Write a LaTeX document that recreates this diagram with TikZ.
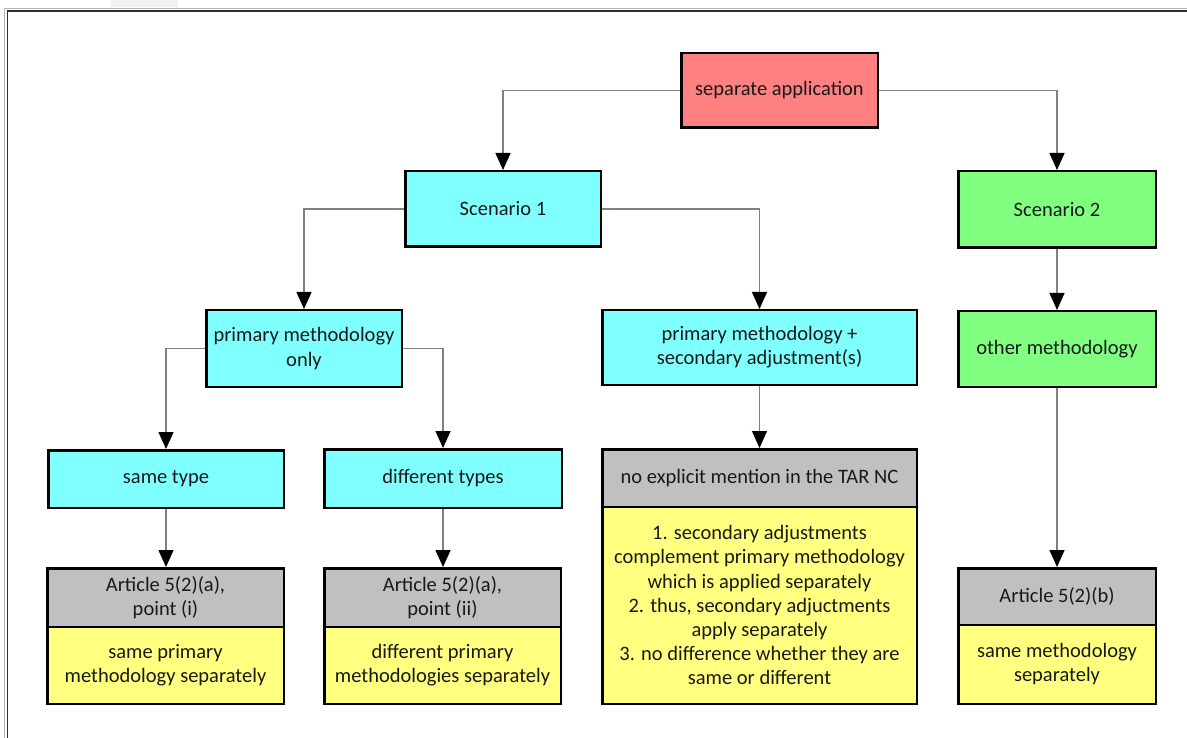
\documentclass[tikz,border=0pt]{standalone}
\usepackage{fontspec}
\setmainfont{Carlito}
\usetikzlibrary{arrows.meta}

\definecolor{boxred}{HTML}{FF8080}
\definecolor{boxcyan}{HTML}{80FFFF}
\definecolor{boxgreen}{HTML}{80FF80}
\definecolor{boxgray}{HTML}{C0C0C0}
\definecolor{boxyellow}{HTML}{FFFF80}
\definecolor{linegray}{HTML}{808080}
\definecolor{framegray}{HTML}{B4B4B4}
\definecolor{framedark}{HTML}{303030}
\definecolor{tabgray}{HTML}{F0F0F0}

\tikzset{
  box/.style={draw=black, line width=2.5pt, inner sep=0pt, align=center,
    font=\fontsize{20.5}{24.2}\selectfont, text=black!90},
  conn/.style={draw=linegray, line width=1.3pt,
    -{Triangle[length=17pt,width=15pt,fill=black,color=black]}},
  wh/.style 2 args={minimum width=#1pt-2.5pt, minimum height=#2pt-2.5pt}
}

\begin{document}
\begin{tikzpicture}[x=1pt,y=-1pt]
  \useasboundingbox (0,0) rectangle (1187,738);
  % window frame
  \fill[tabgray] (111,0) rectangle (178,7);
  \draw[framegray, line width=1pt] (1187,8.5) -- (4.5,8.5) -- (4.5,738);
  \draw[framedark, line width=1.3pt] (1187,11) -- (7.5,11) -- (7.5,738);

  % top level
  \node[box, fill=boxred, wh={199}{77}] (sep) at (779.5,90.5) {separate application};

  % second level
  \node[box, fill=boxcyan, wh={198}{78}] (s1) at (503,209) {Scenario 1};
  \node[box, fill=boxgreen, wh={200}{79}] (s2) at (1057,209.5) {Scenario 2};

  % third level
  \node[box, fill=boxcyan, wh={198}{79}] (pmo) at (304,348.5) {primary methodology\\only};
  \node[box, fill=boxcyan, wh={317}{77}] (pms) at (759.5,347.5) {primary methodology +\\secondary adjustment(s)};
  \node[box, fill=boxgreen, wh={200}{78}] (oth) at (1057,349) {other methodology};

  % fourth level
  \node[box, fill=boxcyan, wh={238}{60}] (st) at (166,479) {same type};
  \node[box, fill=boxcyan, wh={240}{61}] (dt) at (443,478.5) {different types};
  \node[box, fill=boxgray, wh={317}{60}] (nemh) at (759.5,478) {no explicit mention in the TAR NC};
  \node[box, fill=boxyellow, wh={317}{199.5}] (nemb) at (759.5,605.25)
    {1. secondary adjustments\\complement primary methodology\\which is applied separately\\2. thus, secondary adjuctments\\apply separately\\3. no difference whether they are\\same or different};

  % legal basis boxes (heading over body, sharing one border line)
  \node[box, fill=boxgray, wh={239}{61}] (a1h) at (165.5,597.5) {Article 5(2)(a),\\point (i)};
  \node[box, fill=boxyellow, wh={239}{79.5}] (a1b) at (165.5,665.25) {same primary\\methodology separately};
  \node[box, fill=boxgray, wh={239}{61}] (a2h) at (442.5,597.5) {Article 5(2)(a),\\point (ii)};
  \node[box, fill=boxyellow, wh={239}{79.5}] (a2b) at (442.5,665.25) {different primary\\methodologies separately};
  \node[box, fill=boxgray, wh={200}{59}] (bh) at (1057,596.5) {Article 5(2)(b)};
  \node[box, fill=boxyellow, wh={200}{81.5}] (bb) at (1057,664.25) {same methodology\\separately};

  % connectors
  \draw[conn] (sep.west) -| (s1.north);
  \draw[conn] (sep.east) -| (s2.north);
  \draw[conn] (s1.west) -| (pmo.north);
  \draw[conn] (s1.east) -| (pms.north);
  \draw[conn] (pmo.west) -| (st.north);
  \draw[conn] (pmo.east) -| (dt.north);
  \draw[conn] (st.south) -- (st.south |- a1h.north);
  \draw[conn] (dt.south) -- (dt.south |- a2h.north);
  \draw[conn] (pms.south) -- (pms.south |- nemh.north);
  \draw[conn] (s2.south) -- (oth.north);
  \draw[conn] (oth.south) -- (bh.north);
\end{tikzpicture}
\end{document}
